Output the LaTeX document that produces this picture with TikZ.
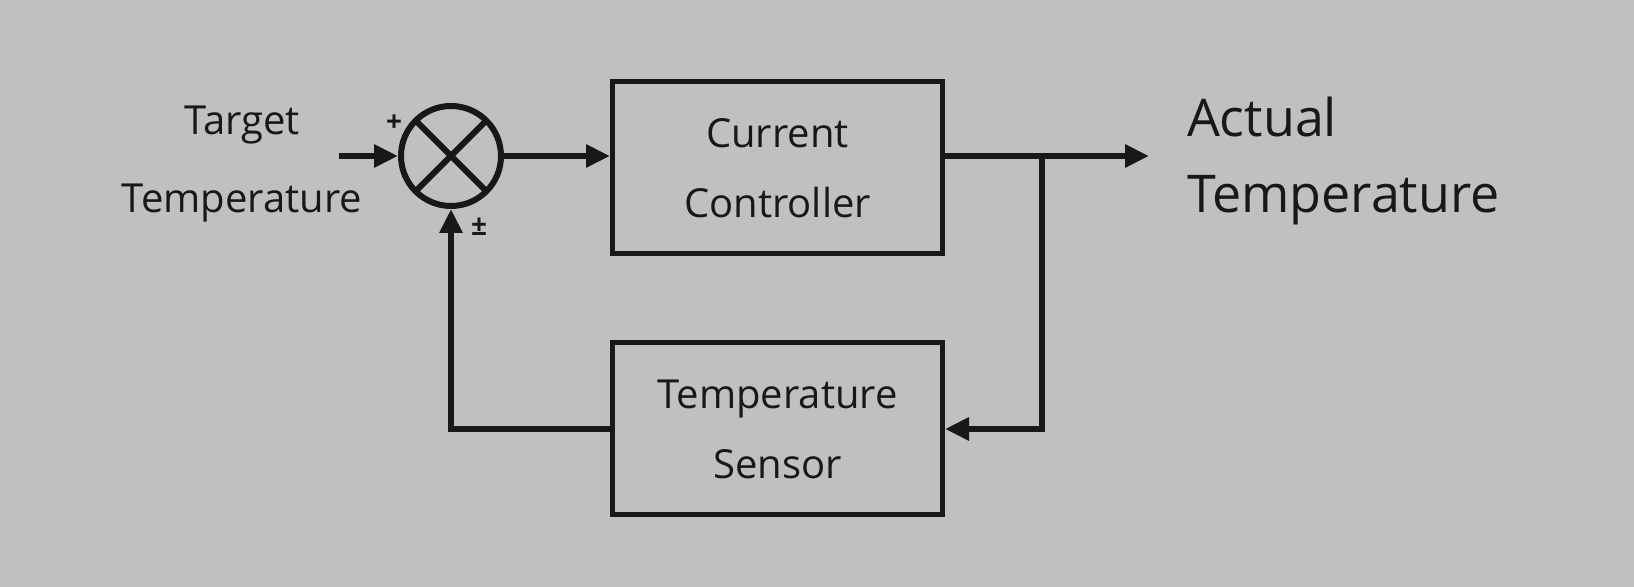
\documentclass[tikz,border=0pt]{standalone}
\usepackage{fontspec}
\setmainfont{Open Sans}
\usepackage{tikz}
\usetikzlibrary{positioning,arrows.meta}
\definecolor{paper}{RGB}{192,192,192}
\definecolor{ink}{RGB}{24,24,24}

\begin{document}
\begin{tikzpicture}[
  x=1pt, y=1pt,
  blk/.style={draw=ink, line width=2.5pt, rectangle, minimum width=165pt, minimum height=86pt, font=\fontsize{20}{35}\selectfont, align=center, text=ink},
  sig/.style={font=\fontsize{20}{39}\selectfont, align=center, text=ink},
  sgn/.style={font=\fontsize{14}{16}\selectfont\bfseries, text=ink},
  arr/.style={-{Triangle[length=12pt, width=11pt]}, line width=3pt, draw=ink},
  ln/.style={line width=3pt, draw=ink},
  node distance=42pt and 53pt
]
\fill[paper] (0,0) rectangle (817,293.5);
\useasboundingbox (0,0) rectangle (817,293.5);

\node[draw=ink, line width=3pt, circle, minimum size=50pt, inner sep=0pt] (sum) at (225.5,215.5) {};
\draw[ln, shorten <=2pt, shorten >=2pt] (sum.north west) -- (sum.south east);
\draw[ln, shorten <=2pt, shorten >=2pt] (sum.north east) -- (sum.south west);
\node[blk, right=of sum, yshift=-6pt] (ctrl) {Current\\Controller};
\node[blk, below=of ctrl] (sens) {Temperature\\Sensor};

\node[sig] (tgt) at (121,211.5) {Target\\Temperature};
\node[sig, font=\fontsize{26}{38}\selectfont, anchor=west, align=left] (act) at (590,213) {Actual\\Temperature};
\node[sgn] (plus) at (197,232) {+};
\node[sgn] (pm) at (239.5,180) {±};

\coordinate (in) at (169.5,215.5);
\coordinate (out) at (574.5,215.5);
\coordinate (br) at (521,215.5);

\draw[arr] (in) -- (sum);
\draw[arr] (sum) -- (sum -| ctrl.west);
\draw[arr] (ctrl.east |- sum) -- (out);
\draw[arr] (br) |- (sens.east);
\draw[arr] (sens.west) -| (sum.south);
\end{tikzpicture}
\end{document}
